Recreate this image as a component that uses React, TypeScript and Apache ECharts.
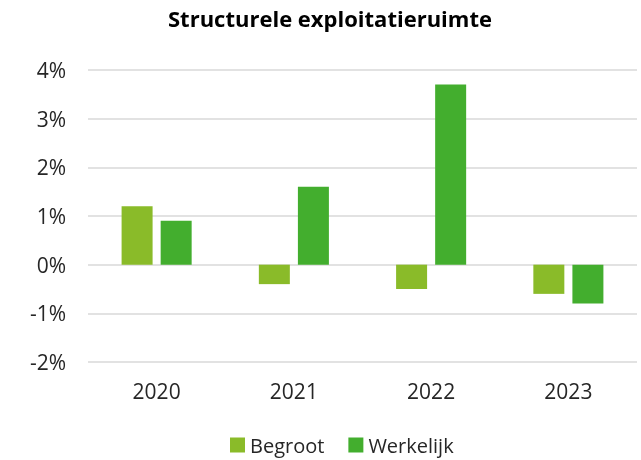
import React, { useEffect, useRef } from "react";
import * as echarts from "echarts";

const categories = ["2020", "2021", "2022", "2023"];
const begroot = [1.2, -0.4, -0.5, -0.6];
const werkelijk = [0.9, 1.6, 3.7, -0.8];
const seriesNames = ["Begroot", "Werkelijk"];

export default function App() {
  const ref = useRef<HTMLDivElement>(null);
  useEffect(() => {
    if (!ref.current) return;
    const chart = echarts.init(ref.current, null, { renderer: "svg" });
    const font = "Open Sans";
    chart.setOption({
      animation: false,
      title: {
        text: "Structurele exploitatieruimte",
        left: 163,
        top: 2,
        textStyle: { fontFamily: font, fontWeight: "bold", fontSize: 22, color: "#000" },
      },
      legend: {
        top: 435,
        left: 230,
        padding: 0,
        itemWidth: 15,
        itemHeight: 15,
        itemGap: 24,
        icon: "rect",
        textStyle: { fontFamily: font, fontSize: 20, color: "#262626" },
        data: seriesNames,
      },
      grid: { left: 88, right: 4, top: 70, bottom: 98 },
      xAxis: {
        type: "category",
        data: categories,
        axisLine: { show: false },
        axisTick: { show: false },
        axisLabel: { fontFamily: font, fontSize: 21, color: "#262626", margin: 18 },
      },
      yAxis: {
        type: "value",
        min: -2,
        max: 4,
        interval: 1,
        axisLabel: {
          fontFamily: font,
          fontSize: 21,
          color: "#262626",
          margin: 22,
          formatter: (v: number) => `${v}%`,
        },
        splitLine: { lineStyle: { color: "#d9d9d9", width: 1.5 } },
        axisLine: { show: false },
        axisTick: { show: false },
      },
      series: [
        {
          name: seriesNames[0],
          type: "bar",
          data: begroot,
          barWidth: 31,
          barGap: "26%",
          itemStyle: { color: "#8abb29" },
        },
        {
          name: seriesNames[1],
          type: "bar",
          data: werkelijk,
          barWidth: 31,
          itemStyle: { color: "#43ae2e" },
        },
      ],
    });
    return () => chart.dispose();
  }, []);
  return (
    <div
      ref={ref}
      style={{ position: "fixed", left: 0, top: 0, width: 641, height: 460 }}
    />
  );
}
